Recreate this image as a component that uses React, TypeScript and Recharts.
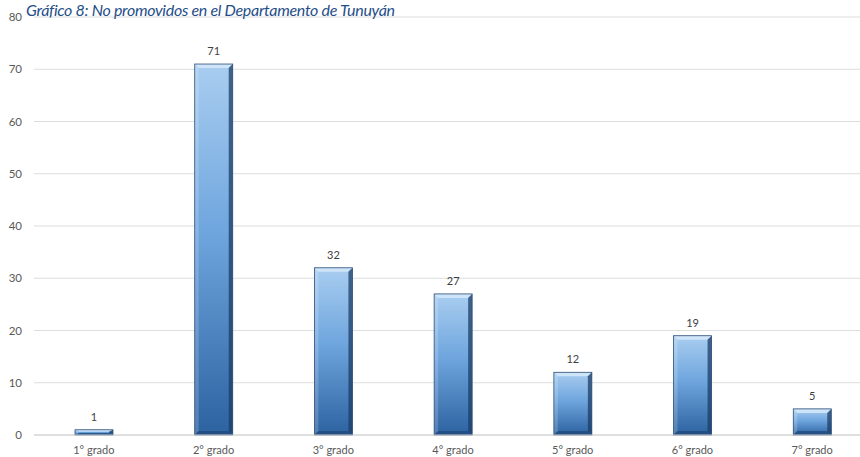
import React from "react";
import { BarChart, Bar, XAxis, YAxis, CartesianGrid, LabelList } from "recharts";

const grados = ["1° grado", "2° grado", "3° grado", "4° grado", "5° grado", "6° grado", "7° grado"];
const noPromovidos = [1, 71, 32, 27, 12, 19, 5];
const yTicks = [0, 10, 20, 30, 40, 50, 60, 70, 80];

const data = grados.map((g, i) => ({ grado: g, valor: noPromovidos[i] }));

const FONT = "Lato, 'Open Sans', sans-serif";

function BevelBar(props: any) {
  const { x, y, width, height, index } = props;
  if (!height || height <= 0) return null;
  const id = `barGrad-${index}`;
  const b = Math.min(4, height / 2.5);
  const r = Math.min(4, width / 6);
  return (
    <g>
      <defs>
        <linearGradient id={id} x1="0" y1="0" x2="0" y2="1">
          <stop offset="0%" stopColor="#A9CDF0" />
          <stop offset="45%" stopColor="#6FA6DE" />
          <stop offset="100%" stopColor="#2C62A0" />
        </linearGradient>
      </defs>
      <rect x={x} y={y} width={width} height={height} fill={`url(#${id})`} />
      {/* top bevel */}
      <polygon
        points={`${x},${y} ${x + width},${y} ${x + width - r},${y + b} ${x + r},${y + b}`}
        fill="#D3E7FA"
        opacity={0.9}
      />
      {/* left bevel */}
      <polygon
        points={`${x},${y} ${x + r},${y + b} ${x + r},${y + height - b} ${x},${y + height}`}
        fill="#ffffff"
        opacity={0.18}
      />
      {/* right bevel */}
      <polygon
        points={`${x + width},${y} ${x + width},${y + height} ${x + width - r},${y + height - b} ${x + width - r},${y + b}`}
        fill="#1C3D66"
        opacity={0.75}
      />
      {/* bottom bevel */}
      <polygon
        points={`${x},${y + height} ${x + width},${y + height} ${x + width - r},${y + height - b} ${x + r},${y + height - b}`}
        fill="#1E4677"
        opacity={0.7}
      />
      <rect x={x} y={y} width={width} height={height} fill="none" stroke="#2B4E78" strokeWidth={0.8} />
    </g>
  );
}

export default function App() {
  return (
    <div
      style={{
        position: "absolute",
        left: 0,
        top: 0,
        width: 860,
        height: 457,
        overflow: "hidden",
        background: "#fff",
      }}
    >
      <div
        style={{
          position: "absolute",
          left: 26,
          top: 2,
          fontFamily: FONT,
          fontStyle: "italic",
          fontSize: 16,
          lineHeight: "16px",
          letterSpacing: -0.3,
          color: "#1F4E89",
          whiteSpace: "nowrap",
          zIndex: 2,
        }}
      >
        Gráfico 8: No promovidos en el Departamento de Tunuyán
      </div>
      <BarChart
        width={880}
        height={457}
        data={data}
        margin={{ top: 17, right: 8, bottom: 0, left: 0 }}
      >
        <CartesianGrid vertical={false} stroke="#DDDDDD" />
        <XAxis
          dataKey="grado"
          height={22}
          tickLine={false}
          axisLine={{ stroke: "#D0D0D0" }}
          tickMargin={5}
          tick={{ fontSize: 11, fill: "#595959", fontFamily: FONT }}
          interval={0}
        />
        <YAxis
          width={34}
          domain={[0, 80]}
          ticks={yTicks}
          tickLine={false}
          axisLine={false}
          tick={{ fontSize: 11.5, fill: "#595959", fontFamily: FONT, dx: -4 }}
        />
        <Bar dataKey="valor" barSize={38} shape={<BevelBar />} isAnimationActive={false}>
          <LabelList
            dataKey="valor"
            position="top"
            offset={9}
            style={{ fontSize: 11, fill: "#404040", fontFamily: FONT }}
          />
        </Bar>
      </BarChart>
    </div>
  );
}
